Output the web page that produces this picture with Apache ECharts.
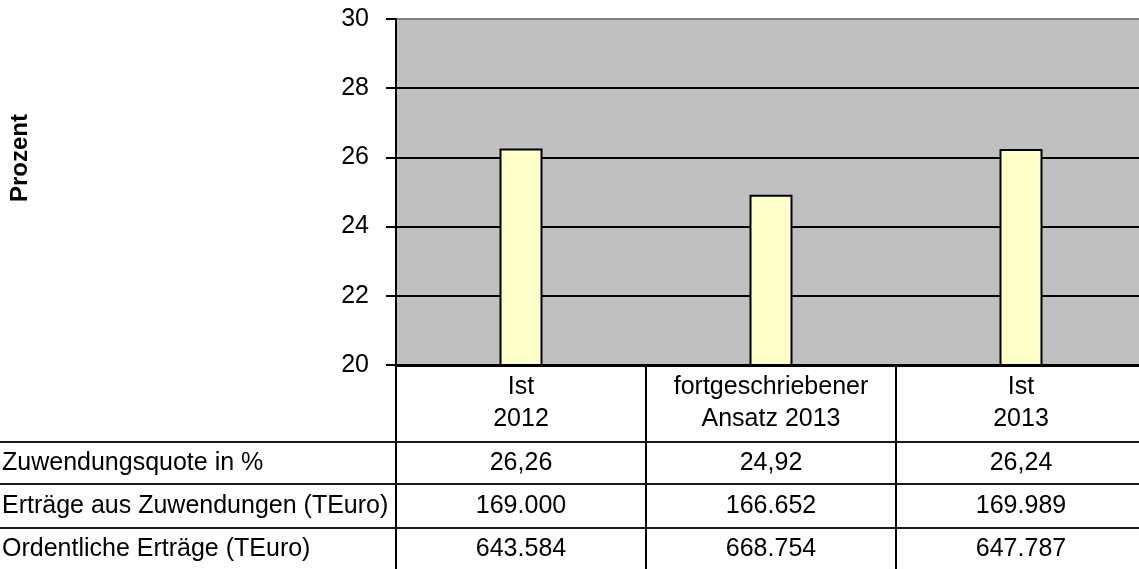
<!DOCTYPE html>
<html>
<head>
<meta charset="utf-8">
<script src="https://cdn.jsdelivr.net/npm/echarts@6/dist/echarts.min.js"></script>
<style>
html,body{margin:0;padding:0;background:#fff;overflow:hidden;width:1139px;height:569px;}
#chart{width:1146px;height:569px;}
</style>
</head>
<body>
<div id="chart"></div>
<script>
// ---- data ----
var categories = ['Ist\n2012', 'fortgeschriebener\nAnsatz 2013', 'Ist\n2013'];
var zuwendungsquote = [26.26, 24.92, 26.24];
var ertraegeZuwendungen = [169000, 166652, 169989];
var ordentlicheErtraege = [643584, 668754, 647787];
var rowLabels = ['Zuwendungsquote in %', 'Ertr\u00e4ge aus Zuwendungen (TEuro)', 'Ordentliche Ertr\u00e4ge (TEuro)'];
var yTicks = { min: 20, max: 30, interval: 2 };
var yAxisName = 'Prozent';

function fmtPct(v) { return v.toFixed(2).replace('.', ','); }
function fmtThousand(v) { return String(v).replace(/\B(?=(\d{3})+(?!\d))/g, '.'); }

var tableRows = [
  zuwendungsquote.map(fmtPct),
  ertraegeZuwendungen.map(fmtThousand),
  ordentlicheErtraege.map(fmtThousand)
];

var FONT = '"Liberation Sans", Arial, sans-serif';
var FS = 25;
var rowCenters = [463, 506, 549];
var rowLines = [442, 484, 528];

var xAxes = [{
  type: 'category',
  data: categories,
  gridIndex: 0,
  position: 'bottom',
  axisLine: { show: true, lineStyle: { color: '#000', width: 3 } },
  axisTick: { show: true, length: 204, lineStyle: { color: '#000', width: 2 } },
  axisLabel: { interval: 0, fontSize: FS, fontFamily: FONT, color: '#000', lineHeight: 32, margin: 6, align: 'center' },
  splitLine: { show: false }
}];
tableRows.forEach(function (row, k) {
  xAxes.push({
    type: 'category',
    data: categories,
    gridIndex: 0,
    position: 'bottom',
    offset: rowCenters[k] - 365 - 15,
    axisLine: { show: false },
    axisTick: { show: false },
    axisLabel: {
      interval: 0, fontSize: FS, fontFamily: FONT, color: '#000', lineHeight: 30, margin: 0,
      formatter: function (v, i) { return row[i]; }
    }
  });
});

var graphics = [];
rowLines.forEach(function (y) {
  graphics.push({ type: 'line', shape: { x1: 0, y1: y, x2: 1146, y2: y }, style: { stroke: '#1a1a1a', lineWidth: 2 }, z: 10 });
});
rowLabels.forEach(function (t, k) {
  graphics.push({ type: 'text', x: 2, y: rowCenters[k], style: { text: t, font: FS + 'px ' + FONT, fill: '#000', textAlign: 'left', textVerticalAlign: 'middle' }, z: 10 });
});
graphics.push({
  type: 'text', x: 20, y: 158, rotation: Math.PI / 2,
  style: { text: yAxisName, font: 'bold 24px ' + FONT, fill: '#000', textAlign: 'center', textVerticalAlign: 'middle' }
});

var chart = echarts.init(document.getElementById('chart'), null, { renderer: 'canvas' });
chart.setOption({
  animation: false,
  backgroundColor: '#fff',
  grid: { left: 396, top: 19, right: 0, bottom: 204, show: true, backgroundColor: '#c0c0c0', borderWidth: 0, containLabel: false },
  xAxis: xAxes,
  yAxis: {
    type: 'value',
    min: yTicks.min, max: yTicks.max, interval: yTicks.interval,
    axisLine: { show: true, lineStyle: { color: '#000', width: 2 } },
    axisTick: { show: true, inside: false, length: 10, lineStyle: { color: '#000', width: 2 } },
    axisLabel: { fontSize: FS, fontFamily: FONT, color: '#000', margin: 27 },
    splitLine: { show: true, lineStyle: { color: ['#000', '#000', '#000', '#000', '#000', '#808080'], width: 2 } }
  },
  series: [{
    type: 'bar',
    data: zuwendungsquote,
    barWidth: 43,
    itemStyle: { color: '#ffffcc', borderColor: '#000', borderWidth: 2 },
    z: 3
  }],
  graphic: graphics
});
</script>
</body>
</html>
